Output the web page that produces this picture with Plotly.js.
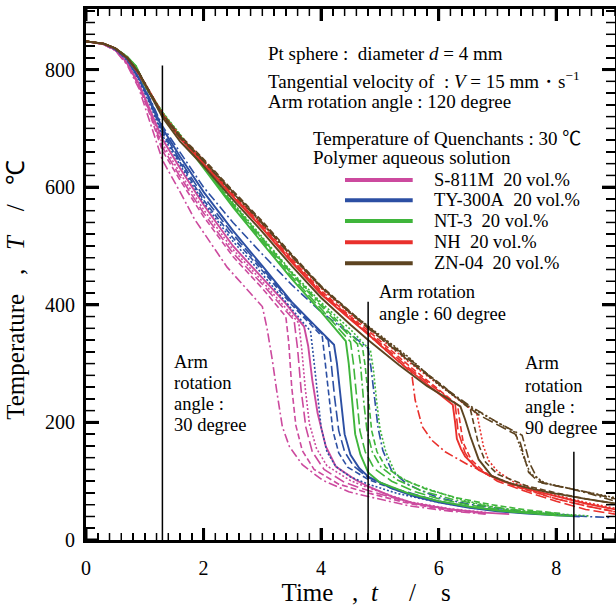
<!DOCTYPE html>
<html>
<head>
<meta charset="utf-8">
<script src="https://cdn.plot.ly/plotly-3.0.1.min.js"></script>
<style>html,body{margin:0;padding:0;background:#fff;}#chart{width:616px;height:606px;}</style>
</head>
<body>
<div id="chart"></div>
<script>
// ---- Data: cooling curves [time s, temperature degC] ----
// S-811M 20 vol.%
const S811M_solid    = [[0,848],[0.3,843],[0.5,834],[0.7,812],[0.9,776],[1.1,730],[1.3,682],[1.6,632],[2,570],[2.5,500],[3,446],[3.4,402],[3.71,363],[3.78,330],[3.85,272],[3.94,216],[4.08,159],[4.25,125],[4.59,102],[4.8,91],[5.2,74],[5.6,62],[6.2,52],[6.7,47],[7.2,44]];
const S811M_dash     = [[0,848],[0.3,843],[0.5,833],[0.7,810],[0.9,772],[1.1,720],[1.3,662],[1.6,612],[2,550],[2.5,482],[3,428],[3.4,380],[3.45,335],[3.5,260],[3.57,195],[3.68,152],[3.88,120],[4.3,95],[4.8,80],[5.5,62],[6.2,50],[6.8,45]];
const S811M_longdash = [[0,848],[0.3,843],[0.5,833],[0.7,811],[0.9,773],[1.1,724],[1.3,668],[1.6,618],[2,556],[2.5,488],[3,435],[3.54,374],[3.6,325],[3.66,255],[3.74,192],[3.85,150],[4.05,120],[4.4,98],[4.8,84],[5.5,64],[6.2,52],[6.8,46]];
const S811M_dot      = [[0,848],[0.3,843],[0.5,833],[0.7,811],[0.9,774],[1.1,726],[1.3,674],[1.6,624],[2,562],[2.5,494],[3,440],[3.62,369],[3.67,325],[3.73,258],[3.8,198],[3.92,156],[4.1,126],[4.5,101],[4.8,89],[5.5,65],[6.2,53],[6.8,47]];
const S811M_dashdot  = [[0,848],[0.3,843],[0.5,832],[0.7,808],[0.9,768],[1.1,708],[1.3,646],[1.6,592],[1.85,545],[2.4,464],[3.0,397],[3.08,360],[3.17,306],[3.25,250],[3.34,193],[3.46,159],[3.68,128],[4.02,102],[4.47,82],[4.8,74],[5.5,58],[6.2,49],[6.8,44]];
// TY-300A 20 vol.%
const TY300A_solid    = [[0,848],[0.3,844],[0.5,835],[0.7,818],[0.9,786],[1.1,746],[1.3,700],[1.6,652],[2,592],[2.5,526],[3,466],[3.5,405],[3.9,364],[4.22,332],[4.27,300],[4.33,240],[4.4,180],[4.5,145],[4.65,122],[4.8,108],[5.2,88],[5.6,74],[6,64],[6.5,55],[7,49],[7.5,45],[8,42],[8.4,40]];
const TY300A_dot      = [[0,848],[0.3,844],[0.5,834],[0.7,816],[0.9,782],[1.1,738],[1.3,688],[1.6,638],[2,574],[2.5,508],[3,452],[3.5,392],[3.82,355],[3.87,312],[3.93,252],[4.0,192],[4.1,150],[4.25,125],[4.5,107],[4.8,95],[5.3,79],[6,64],[6.6,54],[7.2,48],[7.8,44]];
const TY300A_dash     = [[0,848],[0.3,844],[0.5,834],[0.7,817],[0.9,784],[1.1,741],[1.3,692],[1.6,642],[2,578],[2.5,514],[3,458],[3.5,400],[4.02,346],[4.07,302],[4.13,242],[4.2,186],[4.3,148],[4.45,124],[4.8,103],[5.3,84],[6,66],[6.6,55],[7.2,49],[7.8,44]];
const TY300A_longdash = [[0,848],[0.3,844],[0.5,835],[0.7,817],[0.9,785],[1.1,743],[1.3,696],[1.6,646],[2,584],[2.5,520],[3,462],[3.5,403],[4.12,340],[4.17,302],[4.23,242],[4.3,186],[4.4,150],[4.55,126],[4.8,106],[5.3,86],[6,66],[6.6,55],[7.2,49],[7.8,44]];
const TY300A_dashdot  = [[0,848],[0.3,844],[0.5,835],[0.7,819],[0.9,788],[1.1,748],[1.3,704],[1.6,660],[2,600],[2.5,540],[3,486],[3.5,434],[4,388],[4.5,350],[4.8,326],[4.85,292],[4.9,250],[4.97,190],[5.05,152],[5.2,118],[5.45,96],[5.7,84],[6,72],[6.5,61],[7,54],[7.5,48],[8,44],[8.5,40],[8.95,38]];
// NT-3 20 vol.%
const NT3_solid    = [[0,848],[0.3,844],[0.5,836],[0.7,822],[0.85,806],[1.0,774],[1.15,750],[1.3,727],[1.6,686],[2,632],[2.5,566],[3,505],[3.5,444],[4,388],[4.42,338],[4.47,300],[4.52,240],[4.58,180],[4.67,145],[4.8,115],[5.0,98],[5.5,79],[6,66],[6.5,57],[7,50],[7.5,46],[8,42],[8.3,41]];
const NT3_longdash = [[0,848],[0.3,844],[0.5,836],[0.7,822],[0.85,805],[1.0,773],[1.15,750],[1.3,727],[1.6,688],[2,634],[2.5,569],[3,508],[3.5,448],[4,393],[4.5,337],[4.55,300],[4.6,242],[4.66,186],[4.75,150],[4.9,122],[5.2,100],[5.6,82],[6,70],[6.5,60],[7,52],[7.5,47],[8,43]];
const NT3_dashdot  = [[0,848],[0.3,844],[0.5,836],[0.7,821],[0.85,804],[1.0,772],[1.15,749],[1.3,726],[1.6,688],[2,635],[2.5,571],[3,511],[3.5,452],[4,398],[4.62,333],[4.67,298],[4.72,240],[4.78,186],[4.87,150],[5.02,124],[5.3,102],[5.7,84],[6.2,70],[6.8,58],[7.4,50],[8,45]];
const NT3_dash     = [[0,848],[0.3,844],[0.5,836],[0.7,821],[0.85,804],[1.0,772],[1.15,749],[1.3,726],[1.6,689],[2,636],[2.5,572],[3,513],[3.5,454],[4,401],[4.7,330],[4.75,296],[4.8,240],[4.86,186],[4.95,150],[5.1,124],[5.4,103],[5.8,86],[6.3,72],[6.9,60],[7.5,51],[8.1,45]];
const NT3_dot      = [[0,848],[0.3,844],[0.5,836],[0.7,822],[0.85,806],[1.0,775],[1.15,751],[1.3,728],[1.6,690],[2,637],[2.5,574],[3,515],[3.5,456],[4,404],[4.5,358],[4.84,322],[4.89,290],[4.94,240],[5.0,190],[5.1,150],[5.27,112],[5.5,98],[5.9,84],[6.4,68],[7.02,54],[7.6,47],[8.2,43],[8.55,41]];
// NH 20 vol.%
const NH_solid    = [[0,848],[0.3,844],[0.5,836],[0.7,820],[0.9,793],[1.1,757],[1.3,723],[1.6,683],[2,640],[2.5,584],[3,530],[3.5,472],[4,418],[4.5,375],[4.8,350],[5.3,305],[5.8,265],[6.24,230],[6.28,200],[6.31,172],[6.38,155],[6.45,142],[6.68,119],[7.0,103],[7.5,87],[8,74],[8.5,62],[9,52]];
const NH_dash     = [[0,848],[0.3,844],[0.5,836],[0.7,820],[0.9,794],[1.1,759],[1.3,725],[1.6,686],[2,644],[2.5,588],[3,535],[3.5,478],[4,424],[4.5,380],[4.8,356],[5.5,296],[6.32,230],[6.37,195],[6.42,165],[6.55,137],[6.8,113],[7.3,91],[8,70],[8.5,58],[9,48]];
const NH_longdash = [[0,848],[0.3,844],[0.5,836],[0.7,820],[0.9,793],[1.1,758],[1.3,724],[1.6,685],[2,642],[2.5,586],[3,533],[3.5,476],[4,421],[4.5,378],[4.8,352],[5.5,292],[6.28,232],[6.33,185],[6.45,148],[6.6,126],[7,100],[7.5,82],[8,66],[8.5,52],[9,44]];
const NH_dot      = [[0,848],[0.3,844],[0.5,836],[0.7,821],[0.9,795],[1.1,760],[1.3,726],[1.6,688],[2,646],[2.5,591],[3,538],[3.5,482],[4,428],[4.5,384],[4.8,360],[5.5,302],[6.2,250],[6.65,215],[6.7,190],[6.76,160],[6.85,135],[7.0,117],[7.3,97],[8,76],[8.5,64],[9,54]];
const NH_dashdot  = [[0,848],[0.3,844],[0.5,836],[0.7,820],[0.9,792],[1.1,757],[1.3,722],[1.6,684],[2,640],[2.5,584],[3,531],[3.5,474],[4,420],[4.5,376],[4.8,350],[5.2,315],[5.54,284],[5.6,238],[5.72,193],[5.88,170],[6.11,150],[6.5,128],[7,105],[7.5,86],[8,70],[8.5,58],[9,48]];
// ZN-04 20 vol.%
const ZN04_solid    = [[0,848],[0.3,844],[0.5,836],[0.7,820],[0.9,794],[1.1,756],[1.3,719],[1.6,678],[2,636],[2.5,579],[3,524],[3.5,466],[4,412],[4.5,366],[4.8,340],[5.32,298],[5.8,262],[6.37,227],[6.45,205],[6.54,176],[6.68,137],[6.9,109],[7.19,97],[7.5,89],[7.87,81],[8.5,70],[9,62]];
const ZN04_dash     = [[0,848],[0.3,844],[0.5,836],[0.7,821],[0.9,795],[1.1,759],[1.3,724],[1.6,688],[2,648],[2.5,594],[3,542],[3.5,486],[4,432],[4.5,388],[4.8,362],[5.5,306],[6.1,260],[6.54,222],[6.6,195],[6.68,162],[6.8,132],[7.0,112],[7.5,92],[8,80],[8.5,70],[9,62]];
const ZN04_longdash = [[0,848],[0.3,844],[0.5,836],[0.7,821],[0.9,795],[1.1,758],[1.3,723],[1.6,686],[2,646],[2.5,592],[3,540],[3.5,484],[4,430],[4.5,386],[4.8,360],[5.5,304],[6.1,258],[6.68,213],[7.3,180],[7.39,165],[7.53,115],[7.7,99],[8,92],[8.5,82],[9,70]];
const ZN04_dot      = [[0,848],[0.3,844],[0.5,836],[0.7,820],[0.9,794],[1.1,757],[1.3,722],[1.6,685],[2,645],[2.5,591],[3,539],[3.5,484],[4,431],[4.5,387],[4.8,364],[5.5,310],[6.0,264],[6.5,228],[7.3,183],[7.36,165],[7.45,140],[7.56,113],[7.81,97],[8.3,86],[8.7,78],[9,72]];
const ZN04_dashdot  = [[0,848],[0.3,844],[0.5,836],[0.7,820],[0.9,794],[1.1,757],[1.3,721],[1.6,684],[2,644],[2.5,590],[3,538],[3.5,482],[4,430],[4.5,386],[4.8,363],[5.5,308],[6.0,266],[6.5,230],[7.0,200],[7.42,178],[7.47,160],[7.55,130],[7.66,108],[7.76,97],[8.2,88],[8.6,78],[9,66]];

// Arm rotation reference lines
const armLineTimes = [1.3, 4.8, 8.3];
const armLineTops  = [807, 405, 150];

// Axis ranges and ticks
const xRange = [0, 9];
const yRange = [0, 903];
const xTickVals = [0, 2, 4, 6, 8];
const yTickVals = [0, 200, 400, 600, 800];
const xMinorStep = 0.2;
const yMinorStep = 20;

// Legend labels
const legendLabels = ['S-811M&nbsp;&nbsp;20 vol.%', 'TY-300A&nbsp;&nbsp;20 vol.%', 'NT-3&nbsp;&nbsp;20 vol.%', 'NH&nbsp;&nbsp;20 vol.%', 'ZN-04&nbsp;&nbsp;20 vol.%'];

// ---- Styling ----
const COL = {pink:'#cc4a9e', blue:'#2c4fa3', green:'#3fb53b', red:'#e9302c', brown:'#5d4421'};
const DASH = {solid:'solid', dash:'6px,3px', dot:'2px,2px', dashdot:'9px,3px,2px,3px', longdash:'11px,4px'};
const FONT = 'Liberation Serif, Times New Roman, serif';
const CELSIUS = '<span style="font-family:\'Noto Sans CJK JP\'">℃</span>';

function tr(pts, color, style){
  return {
    type:'scatter', mode:'lines',
    x: pts.map(p=>p[0]), y: pts.map(p=>p[1]),
    line:{color:color, width: style==='solid'?1.9:1.6, dash:DASH[style]},
    showlegend:false, hoverinfo:'skip'
  };
}

const groups = [
  [COL.pink,  {solid:S811M_solid, dash:S811M_dash, longdash:S811M_longdash, dot:S811M_dot, dashdot:S811M_dashdot}],
  [COL.blue,  {solid:TY300A_solid, dash:TY300A_dash, longdash:TY300A_longdash, dot:TY300A_dot, dashdot:TY300A_dashdot}],
  [COL.green, {solid:NT3_solid, dash:NT3_dash, longdash:NT3_longdash, dot:NT3_dot, dashdot:NT3_dashdot}],
  [COL.red,   {solid:NH_solid, dash:NH_dash, longdash:NH_longdash, dot:NH_dot, dashdot:NH_dashdot}],
  [COL.brown, {solid:ZN04_solid, dash:ZN04_dash, longdash:ZN04_longdash, dot:ZN04_dot, dashdot:ZN04_dashdot}]
];

const traces = [];
groups.forEach(([c, set])=>{
  ['dashdot','longdash','dash','dot','solid'].forEach(s=>traces.push(tr(set[s], c, s)));
});

// arm rotation marker lines (data coordinates)
armLineTimes.forEach((t,i)=>traces.push({
  type:'scatter', mode:'lines', x:[t,t], y:[0, armLineTops[i]],
  line:{color:'#000', width:1.5}, showlegend:false, hoverinfo:'skip'
}));

// frame ticks on all four sides, drawn inward (markers clipped at the plot edge)
function steps(lo, hi, st){ const a=[]; for(let k=0; lo+k*st<=hi+1e-9; k++) a.push(+(lo+k*st).toFixed(6)); return a; }
const xMinorVals = steps(xRange[0], xRange[1], xMinorStep).filter(v=>!xTickVals.includes(v));
const yMinorVals = steps(yRange[0], 900, yMinorStep).filter(v=>!yTickVals.includes(v));
function tickTrace(xs, ys, symbol, len, width){
  return {type:'scatter', mode:'markers', x:xs, y:ys, cliponaxis:true,
    marker:{symbol:symbol, size:len/0.7, color:'#000', line:{color:'#000', width:width}},
    showlegend:false, hoverinfo:'skip'};
}
[yRange[0], yRange[1]].forEach(yy=>{
  traces.push(tickTrace(xMinorVals, xMinorVals.map(()=>yy), 'line-ns', 7, 1.5));
  traces.push(tickTrace(xTickVals, xTickVals.map(()=>yy), 'line-ns', 12, 3));
});
[xRange[0], xRange[1]].forEach(xx=>{
  traces.push(tickTrace(yMinorVals.map(()=>xx), yMinorVals, 'line-ew', 9, 1.5));
  traces.push(tickTrace(yTickVals.map(()=>xx), yTickVals, 'line-ew', 13, 3));
});

// manual legend: sample lines on a hidden paper-like overlay axis
const legColors = [COL.pink, COL.blue, COL.green, COL.red, COL.brown];
const legY = [0.678, 0.6397, 0.6008, 0.5606, 0.5211];
const annotations = [];
legColors.forEach((c,i)=>{
  traces.push({type:'scatter', mode:'lines', x:[0.4896, 0.6176], y:[legY[i], legY[i]], xaxis:'x2', yaxis:'y2',
    line:{color:c, width:4}, showlegend:false, hoverinfo:'skip', cliponaxis:false});
  annotations.push({xref:'paper', yref:'paper', x:0.654, y:legY[i], xanchor:'left', yanchor:'middle', showarrow:false, text:legendLabels[i], font:{family:FONT, size:18.5, color:'#000'}});
});

const txt = (x,y,text,size)=>({xref:'paper', yref:'paper', x:x, y:y, xanchor:'left', yanchor:'middle', align:'left', showarrow:false, text:text, font:{family:FONT, size:size||18.5, color:'#000'}});
annotations.push(txt(0.3412, 0.9165, 'Pt sphere :&nbsp;&nbsp;diameter <i>d</i> = 4 mm', 19));
annotations.push(txt(0.3412, 0.8663, 'Tangential velocity of&nbsp;&nbsp;: <i>V</i> = 15 mm・s<sup>−1</sup>', 19));
annotations.push(txt(0.3412, 0.8254, 'Arm rotation angle : 120 degree', 19));
annotations.push(txt(0.4257, 0.7595, 'Temperature of Quenchants : 30 ' + CELSIUS, 19));
annotations.push(txt(0.4257, 0.7207, 'Polymer aqueous solution', 19));
annotations.push(txt(0.5501, 0.4676, 'Arm rotation'));
annotations.push(txt(0.5501, 0.4250, 'angle : 60 degree'));
annotations.push(txt(0.1635, 0.3358, 'Arm'));
annotations.push(txt(0.1635, 0.2957, 'rotation'));
annotations.push(txt(0.1635, 0.2561, 'angle :'));
annotations.push(txt(0.1635, 0.2166, '30 degree'));
annotations.push(txt(0.8261, 0.3328, 'Arm'));
annotations.push(txt(0.8261, 0.2900, 'rotation'));
annotations.push(txt(0.8261, 0.2510, 'angle :'));
annotations.push(txt(0.8261, 0.2104, '90 degree'));

const nb = n => '&nbsp;'.repeat(n);

const axisCommon = {
  showline:true, linewidth:3, linecolor:'#000', mirror:'allticks',
  ticks:'inside', tickcolor:'#000', tickwidth:3,
  showgrid:false, zeroline:false, layer:'above traces',
  tickfont:{family:FONT, size:20, color:'#000'}
};
const xMinor = {dtick:xMinorStep, ticks:'inside', ticklen:7, tickwidth:1.5, tickcolor:'#000'};
const yMinor = {dtick:yMinorStep, ticks:'inside', ticklen:9, tickwidth:1.5, tickcolor:'#000'};

const layout = {
  width:616, height:606,
  margin:{l:86, r:1, t:9, b:66},
  paper_bgcolor:'#fff', plot_bgcolor:'#fff',
  xaxis: Object.assign({}, axisCommon, {
    range:xRange, tickvals:xTickVals, ticklen:12, minor:xMinor,
    ticklabelstandoff:8,
    title:{text: nb(5)+'Time'+nb(3)+','+nb(2)+'<i>t</i>'+nb(5)+'/'+nb(4)+'s', font:{family:FONT, size:25, color:'#000'}, standoff:4}
  }),
  yaxis: Object.assign({}, axisCommon, {
    range:yRange, tickvals:yTickVals, ticklen:13, minor:yMinor,
    ticklabelstandoff:4,
    title:{text: 'Temperature'+nb(3)+','+nb(3)+'<i>T</i>'+nb(4)+'/'+nb(3)+'℃'+nb(5), font:{family:FONT, size:25, color:'#000'}, standoff:14}
  }),
  xaxis2: {overlaying:'x', anchor:'y2', range:[0,1], visible:false, fixedrange:true},
  yaxis2: {overlaying:'y', anchor:'x2', range:[0,1], visible:false, fixedrange:true},
  annotations: annotations,
  showlegend:false
};

Plotly.newPlot('chart', traces, layout, {staticPlot:true, displayModeBar:false});
</script>
</body>
</html>
